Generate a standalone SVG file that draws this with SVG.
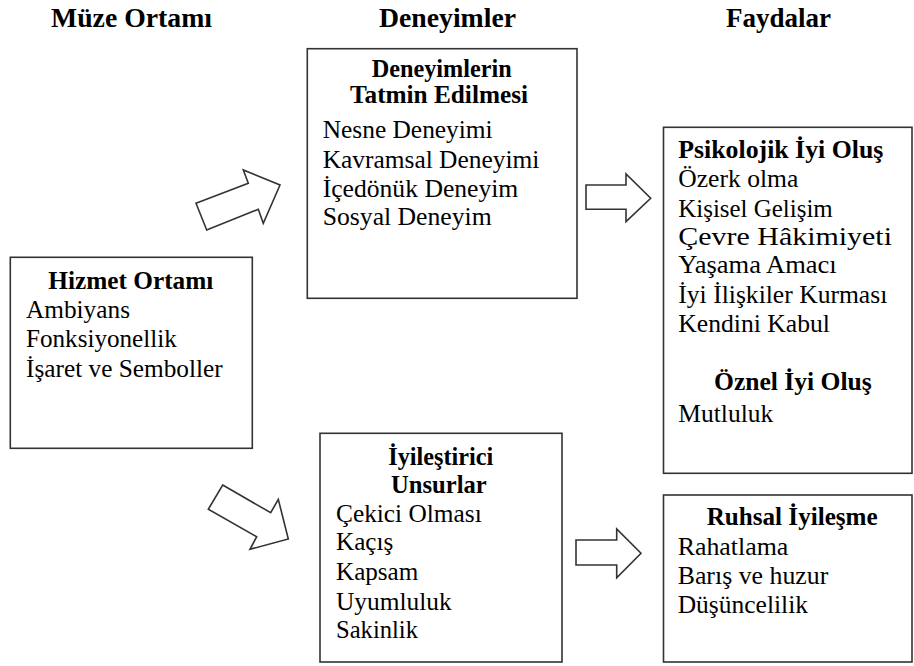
<svg xmlns="http://www.w3.org/2000/svg" width="914" height="666" viewBox="0 0 914 666">
<style>
.box{fill:#fff;stroke:#333;stroke-width:1.6}
.arr{fill:#fff;stroke:#333;stroke-width:1.6;stroke-linejoin:miter}
.h{font-size:27px;font-weight:bold}
.b{font-size:24.5px;font-weight:bold}
.t{font-size:24.5px}
</style>
<rect width="914" height="666" fill="#fff"/>
<g font-family="'Liberation Serif', 'Times New Roman', 'DejaVu Serif', serif" fill="#000">
<g id="headings">
<text class="h" x="51" y="27" textLength="161" lengthAdjust="spacingAndGlyphs">Müze Ortamı</text>
<text class="h" x="379" y="27" textLength="137" lengthAdjust="spacingAndGlyphs">Deneyimler</text>
<text class="h" x="726" y="27" textLength="105" lengthAdjust="spacingAndGlyphs">Faydalar</text>
</g>
<g id="connectors">
<polygon class="arr" points="196,203.3 248.3,183.3 243.3,170 280,185 263.3,223.3 258.3,209.3 206.7,230"/>
<polygon class="arr" points="222.7,485 270.7,512.7 278.3,499.3 288.3,539 250,549.3 256.7,536.7 208.3,509.3"/>
<polygon class="arr" points="586,185 626,185 626,174 650.7,198.3 626,221.7 626,209.3 586,209.3"/>
<polygon class="arr" points="576,540 616.7,540 616.7,529 641,553.3 616.7,577.7 616.7,565 576,565"/>
</g>
<g id="hizmet">
<rect class="box" x="10.3" y="257.3" width="242" height="191"/>
<text class="b" x="48.3" y="289.3" textLength="165" lengthAdjust="spacingAndGlyphs">Hizmet Ortamı</text>
<text class="t" x="26" y="318.3" textLength="104" lengthAdjust="spacingAndGlyphs">Ambiyans</text>
<text class="t" x="26" y="346.7" textLength="150.7" lengthAdjust="spacingAndGlyphs">Fonksiyonellik</text>
<text class="t" x="26" y="376.7" textLength="196.7" lengthAdjust="spacingAndGlyphs">İşaret ve Semboller</text>
</g>
<g id="deneyimler">
<rect class="box" x="307.3" y="48.7" width="269.7" height="249.6"/>
<text class="b" x="371.7" y="77.3" textLength="140" lengthAdjust="spacingAndGlyphs">Deneyimlerin</text>
<text class="b" x="350" y="103.3" textLength="178" lengthAdjust="spacingAndGlyphs">Tatmin Edilmesi</text>
<text class="t" x="322.7" y="137.7" textLength="170" lengthAdjust="spacingAndGlyphs">Nesne Deneyimi</text>
<text class="t" x="322.7" y="167.7" textLength="216.6" lengthAdjust="spacingAndGlyphs">Kavramsal Deneyimi</text>
<text class="t" x="322.7" y="196.7" textLength="195.6" lengthAdjust="spacingAndGlyphs">İçedönük Deneyim</text>
<text class="t" x="322.7" y="225" textLength="169" lengthAdjust="spacingAndGlyphs">Sosyal Deneyim</text>
</g>
<g id="iyilestirici">
<rect class="box" x="320" y="433.3" width="242" height="228.7"/>
<text class="b" x="388.3" y="465" textLength="105" lengthAdjust="spacingAndGlyphs">İyileştirici</text>
<text class="b" x="391" y="493.3" textLength="95.7" lengthAdjust="spacingAndGlyphs">Unsurlar</text>
<text class="t" x="336" y="521.7" textLength="145.7" lengthAdjust="spacingAndGlyphs">Çekici Olması</text>
<text class="t" x="336" y="550" textLength="57.3" lengthAdjust="spacingAndGlyphs">Kaçış</text>
<text class="t" x="336" y="580" textLength="82.3" lengthAdjust="spacingAndGlyphs">Kapsam</text>
<text class="t" x="336" y="610" textLength="115.7" lengthAdjust="spacingAndGlyphs">Uyumluluk</text>
<text class="t" x="336" y="638.3" textLength="82" lengthAdjust="spacingAndGlyphs">Sakinlik</text>
</g>
<g id="psikolojik">
<rect class="box" x="663.5" y="127.3" width="248.5" height="346"/>
<text class="b" x="678.3" y="158.3" textLength="205" lengthAdjust="spacingAndGlyphs">Psikolojik İyi Oluş</text>
<text class="t" x="678.3" y="186.7" textLength="120" lengthAdjust="spacingAndGlyphs">Özerk olma</text>
<text class="t" x="678.3" y="216.7" textLength="154.4" lengthAdjust="spacingAndGlyphs">Kişisel Gelişim</text>
<text class="t" x="678.3" y="245" textLength="213.7" lengthAdjust="spacingAndGlyphs">Çevre Hâkimiyeti</text>
<text class="t" x="678.3" y="273.3" textLength="158.4" lengthAdjust="spacingAndGlyphs">Yaşama Amacı</text>
<text class="t" x="678.3" y="302.7" textLength="209" lengthAdjust="spacingAndGlyphs">İyi İlişkiler Kurması</text>
<text class="t" x="678.3" y="332" textLength="151.7" lengthAdjust="spacingAndGlyphs">Kendini Kabul</text>
<text class="b" x="714" y="390" textLength="157.7" lengthAdjust="spacingAndGlyphs">Öznel İyi Oluş</text>
<text class="t" x="678.3" y="421.7" textLength="95" lengthAdjust="spacingAndGlyphs">Mutluluk</text>
</g>
<g id="ruhsal">
<rect class="box" x="663.5" y="495" width="248.5" height="167"/>
<text class="b" x="706.7" y="525" textLength="171" lengthAdjust="spacingAndGlyphs">Ruhsal İyileşme</text>
<text class="t" x="677.7" y="555" textLength="110.6" lengthAdjust="spacingAndGlyphs">Rahatlama</text>
<text class="t" x="677.7" y="584.3" textLength="150.6" lengthAdjust="spacingAndGlyphs">Barış ve huzur</text>
<text class="t" x="677.7" y="613.3" textLength="130.3" lengthAdjust="spacingAndGlyphs">Düşüncelilik</text>
</g>
</g>
</svg>
